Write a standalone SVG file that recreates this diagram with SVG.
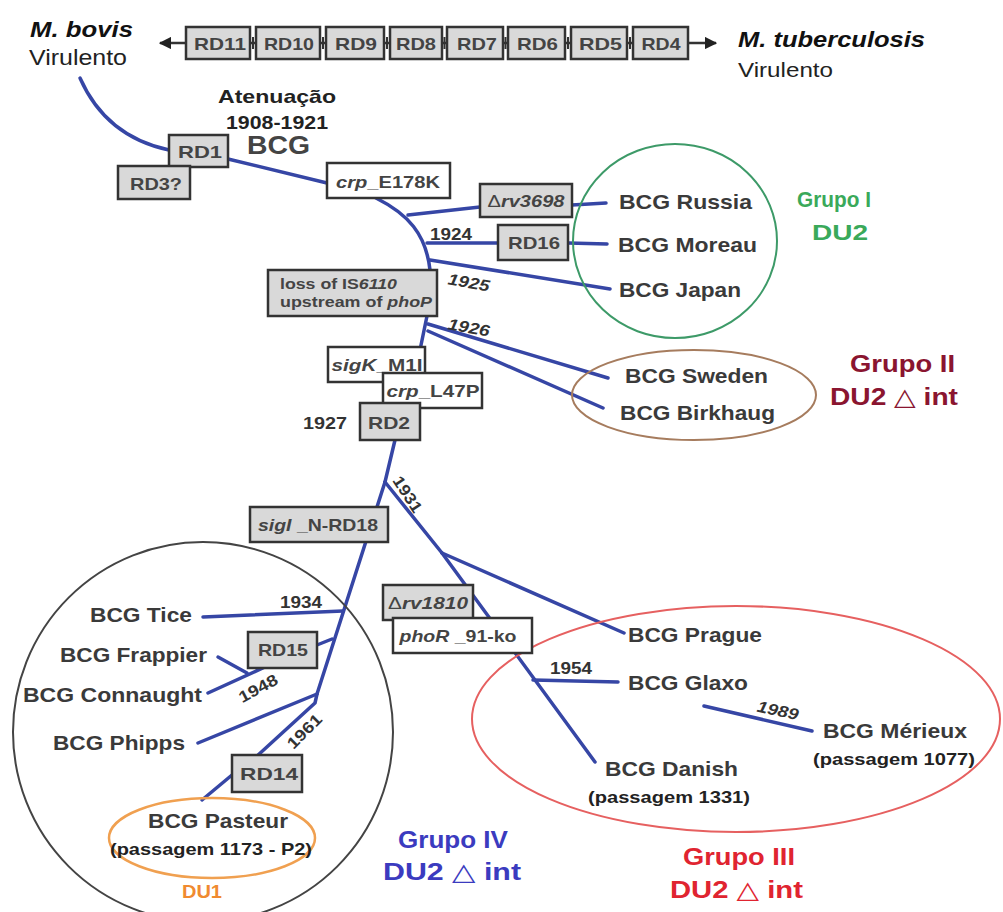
<svg xmlns="http://www.w3.org/2000/svg" width="1003" height="912" viewBox="0 0 1003 912">
<style>
text{font-family:"Liberation Sans",Arial,sans-serif;}
.bx{fill:#d9d9d9;stroke:#333;stroke-width:2.5;}
.wb{fill:#fff;stroke:#333;stroke-width:2.5;}
.bt{font-size:17px;font-weight:bold;fill:#444;text-anchor:middle;}
.bl{font-size:15px;font-weight:bold;fill:#444;}
.yr{font-size:16px;font-weight:bold;fill:#333;}
.lbl{font-size:21px;font-weight:bold;fill:#3a3a3a;}
.pas{font-size:16.5px;font-weight:bold;fill:#222;}
.grp{font-size:24px;font-weight:bold;}
.ln{fill:none;stroke:#3646a5;stroke-width:3.5;stroke-linecap:round;stroke-linejoin:round;}
.tri{font-weight:normal;font-family:"DejaVu Sans",sans-serif;}
</style>
<defs>
<marker id="ah" viewBox="0 0 10 10" refX="9" refY="5" markerWidth="5" markerHeight="5" orient="auto-start-reverse"><path d="M0,0 L10,5 L0,10 z" fill="#222"/></marker>
</defs>
<rect width="1003" height="912" fill="#fff"/>

<!-- top bar -->
<g id="topbar">
<line x1="160" y1="43" x2="716" y2="43" stroke="#333" stroke-width="2.5" marker-start="url(#ah)" marker-end="url(#ah)"/>
<g stroke="#333" stroke-width="2"><line x1="253" y1="37" x2="253" y2="49"/><line x1="323" y1="37" x2="323" y2="49"/><line x1="387" y1="37" x2="387" y2="49"/><line x1="444.5" y1="37" x2="444.5" y2="49"/><line x1="505.5" y1="37" x2="505.5" y2="49"/><line x1="568" y1="37" x2="568" y2="49"/><line x1="630" y1="37" x2="630" y2="49"/></g>
<rect class="bx" x="186" y="27" width="64" height="32"/><text class="bt" x="220" y="50" textLength="52" lengthAdjust="spacingAndGlyphs">RD11</text>
<rect class="bx" x="256" y="27" width="64" height="32"/><text class="bt" x="289" y="50" textLength="50" lengthAdjust="spacingAndGlyphs">RD10</text>
<rect class="bx" x="326" y="27" width="58" height="32"/><text class="bt" x="356" y="50" textLength="42" lengthAdjust="spacingAndGlyphs">RD9</text>
<rect class="bx" x="390" y="27" width="52" height="32"/><text class="bt" x="416" y="50" textLength="40" lengthAdjust="spacingAndGlyphs">RD8</text>
<rect class="bx" x="447" y="27" width="56" height="32"/><text class="bt" x="477" y="50" textLength="40" lengthAdjust="spacingAndGlyphs">RD7</text>
<rect class="bx" x="508" y="27" width="57" height="32"/><text class="bt" x="537.5" y="50" textLength="41" lengthAdjust="spacingAndGlyphs">RD6</text>
<rect class="bx" x="571" y="27" width="56" height="32"/><text class="bt" x="600.5" y="50" textLength="43" lengthAdjust="spacingAndGlyphs">RD5</text>
<rect class="bx" x="633" y="27" width="55" height="32"/><text class="bt" x="661" y="50" textLength="39" lengthAdjust="spacingAndGlyphs">RD4</text>
</g>

<g id="mbovis">
<text x="30" y="37" font-size="22" font-weight="bold" font-style="italic" fill="#111" textLength="103" lengthAdjust="spacingAndGlyphs">M. bovis</text>
<text x="29" y="65" font-size="22" fill="#222" textLength="98" lengthAdjust="spacingAndGlyphs">Virulento</text>
</g>
<g id="mtb">
<text x="738" y="47" font-size="22" font-weight="bold" font-style="italic" fill="#111" textLength="187" lengthAdjust="spacingAndGlyphs">M. tuberculosis</text>
<text x="738" y="77" font-size="21" fill="#222" textLength="95" lengthAdjust="spacingAndGlyphs">Virulento</text>
</g>
<g id="atenuacao">
<text x="277" y="103" font-size="19" font-weight="bold" fill="#222" text-anchor="middle" textLength="118" lengthAdjust="spacingAndGlyphs">Atenuação</text>
<text x="277" y="129" font-size="19" font-weight="bold" fill="#222" text-anchor="middle" textLength="102" lengthAdjust="spacingAndGlyphs">1908-1921</text>
<text x="247" y="154" font-size="25" font-weight="bold" fill="#444" textLength="63" lengthAdjust="spacingAndGlyphs">BCG</text>
</g>

<!-- connectors -->
<g id="connectors">
<path class="ln" d="M80,78 C95,112 122,140 169,150"/>
<path class="ln" d="M228,159 L327,183"/>
<path class="ln" d="M376,198 C408,214 426,234 430,270"/>
<path class="ln" d="M408,215 L480,207"/>
<path class="ln" d="M572,205 L606,203"/>
<path class="ln" d="M427,243 L498,243"/>
<path class="ln" d="M568,243 L607,244"/>
<path class="ln" d="M430,260 L610,289"/>
<path class="ln" d="M427,316 L420,350 L395,440 L385,482"/>
<path class="ln" d="M428,324 L608,378"/>
<path class="ln" d="M428,331 L603,408"/>
<path class="ln" d="M385,482 L317,694 L315,703 L257,756"/>
<path class="ln" d="M203,617 L343,611"/>
<path class="ln" d="M317,645 L332,639"/>
<path class="ln" d="M218,657 L247,673"/>
<path class="ln" d="M208,693 L265,667"/>
<path class="ln" d="M198,743 L317,694"/>
<path class="ln" d="M232,775 L202,800"/>
<path class="ln" d="M385,482 L442,553"/>
<path class="ln" d="M442,553 L624,633"/>
<path class="ln" d="M442,553 L595,762"/>
<path class="ln" d="M533,680 L618,682"/>
<path class="ln" d="M704,706 L812,731"/>
</g>

<!-- group outlines -->
<g id="grupo1">
<ellipse cx="675" cy="241" rx="102" ry="97" fill="none" stroke="#3d9a68" stroke-width="2"/>
<text class="grp" x="797" y="207" font-size="22" fill="#3aa95a" textLength="74" lengthAdjust="spacingAndGlyphs" style="font-size:22px">Grupo I</text>
<text class="grp" x="812" y="240" fill="#3aa95a" textLength="56" lengthAdjust="spacingAndGlyphs" style="font-size:22px">DU2</text>
</g>
<g id="grupo2">
<ellipse cx="694" cy="395" rx="122" ry="45" fill="none" stroke="#a67c5e" stroke-width="2"/>
<text class="grp" x="850" y="372" fill="#8a1530" textLength="105" lengthAdjust="spacingAndGlyphs">Grupo II</text>
<text class="grp" x="830" y="405" fill="#8a1530" textLength="128" lengthAdjust="spacingAndGlyphs">DU2 <tspan class="tri">△</tspan> int</text>
</g>
<g id="grupo4">
<circle cx="203" cy="732" r="190" fill="none" stroke="#444" stroke-width="2"/>
<text class="grp" x="398" y="848" fill="#3b3bbf" textLength="110" lengthAdjust="spacingAndGlyphs">Grupo IV</text>
<text class="grp" x="383" y="880" fill="#3b3bbf" textLength="138" lengthAdjust="spacingAndGlyphs">DU2  <tspan class="tri">△</tspan> int</text>
</g>
<g id="grupo3">
<ellipse cx="736" cy="719" rx="264" ry="113" fill="none" stroke="#e66060" stroke-width="2"/>
<text class="grp" x="683" y="865" fill="#e02430" textLength="112" lengthAdjust="spacingAndGlyphs">Grupo III</text>
<text class="grp" x="670" y="898" fill="#e02430" textLength="133" lengthAdjust="spacingAndGlyphs">DU2 <tspan class="tri">△</tspan> int</text>
</g>
<g id="du1">
<ellipse cx="212" cy="838" rx="103" ry="40" fill="none" stroke="#f0a050" stroke-width="2.5"/>
<text x="202" y="898" font-size="18" font-weight="bold" fill="#f08a30" text-anchor="middle" textLength="40" lengthAdjust="spacingAndGlyphs">DU1</text>
</g>

<!-- marker boxes -->
<g id="rd1"><rect class="bx" x="169" y="135" width="59" height="32"/><text class="bt" x="200" y="158" textLength="44" lengthAdjust="spacingAndGlyphs">RD1</text></g>
<g id="rd3"><rect class="bx" x="118" y="166" width="72" height="33"/><text class="bt" x="156" y="190" textLength="52" lengthAdjust="spacingAndGlyphs">RD3?</text></g>
<g id="crpE178K"><rect class="wb" x="327" y="163" width="123" height="35"/><text class="bt" x="388" y="188" textLength="104" lengthAdjust="spacingAndGlyphs"><tspan font-style="italic">crp</tspan>_E178K</text></g>
<g id="rv3698"><rect class="bx" x="480" y="184" width="92" height="33"/><text class="bt" x="526" y="207" textLength="77" lengthAdjust="spacingAndGlyphs" fill="#555"><tspan font-weight="normal">Δ</tspan><tspan font-style="italic">rv3698</tspan></text></g>
<g id="rd16"><rect class="bx" x="498" y="225" width="70" height="35"/><text class="bt" x="534" y="249" textLength="52" lengthAdjust="spacingAndGlyphs">RD16</text></g>
<g id="is6110"><rect class="bx" x="268" y="270" width="169" height="46"/>
<text class="bl" x="280" y="289" textLength="117" lengthAdjust="spacingAndGlyphs">loss of IS<tspan font-style="italic">6110</tspan></text>
<text class="bl" x="280" y="307" textLength="152" lengthAdjust="spacingAndGlyphs">upstream of <tspan font-style="italic">phoP</tspan></text></g>
<g id="sigK"><rect class="wb" x="328" y="347" width="97" height="35"/><text class="bt" x="377" y="371" textLength="91" lengthAdjust="spacingAndGlyphs"><tspan font-style="italic">sigK</tspan>_M1I</text></g>
<g id="crpL47P"><rect class="wb" x="383" y="373" width="99" height="35"/><text class="bt" x="433" y="397" textLength="93" lengthAdjust="spacingAndGlyphs"><tspan font-style="italic">crp</tspan>_L47P</text></g>
<g id="rd2"><rect class="bx" x="360" y="403" width="60" height="37"/><text class="bt" x="389" y="429" textLength="42" lengthAdjust="spacingAndGlyphs">RD2</text></g>
<g id="sigI"><rect class="bx" x="250" y="507" width="138" height="35"/><text class="bt" x="318" y="531" textLength="120" lengthAdjust="spacingAndGlyphs"><tspan font-style="italic">sigI</tspan> _N-RD18</text></g>
<g id="rd15"><rect class="bx" x="248" y="632" width="69" height="36"/><text class="bt" x="283" y="656" textLength="50" lengthAdjust="spacingAndGlyphs">RD15</text></g>
<g id="rd14"><rect class="bx" x="232" y="755" width="70" height="37"/><text class="bt" x="269" y="780" textLength="58" lengthAdjust="spacingAndGlyphs">RD14</text></g>
<g id="rv1810"><rect class="bx" x="383" y="585" width="90" height="35"/><text class="bt" x="428" y="609" textLength="80" lengthAdjust="spacingAndGlyphs" fill="#555"><tspan font-weight="normal">Δ</tspan><tspan font-style="italic">rv1810</tspan></text></g>
<g id="phoR"><rect class="wb" x="393" y="618" width="139" height="35"/><text class="bt" x="458" y="642" textLength="117" lengthAdjust="spacingAndGlyphs"><tspan font-style="italic">phoR</tspan> _91-ko</text></g>

<!-- years -->
<g id="years">
<text class="yr" x="430" y="240" textLength="42" lengthAdjust="spacingAndGlyphs">1924</text>
<text class="yr" x="469" y="288" font-style="italic" text-anchor="middle" transform="rotate(10 469 282)" textLength="42" lengthAdjust="spacingAndGlyphs">1925</text>
<text class="yr" x="469" y="333" font-style="italic" text-anchor="middle" transform="rotate(10 469 327)" textLength="42" lengthAdjust="spacingAndGlyphs">1926</text>
<text class="yr" x="303" y="429" textLength="44" lengthAdjust="spacingAndGlyphs">1927</text>
<text class="yr" x="408" y="500" text-anchor="middle" transform="rotate(57 408 494)" textLength="40" lengthAdjust="spacingAndGlyphs">1931</text>
<text class="yr" x="280" y="608" textLength="42" lengthAdjust="spacingAndGlyphs">1934</text>
<text class="yr" x="258" y="694" text-anchor="middle" transform="rotate(-28 258 688)" textLength="42" lengthAdjust="spacingAndGlyphs">1948</text>
<text class="yr" x="304" y="737" text-anchor="middle" transform="rotate(-45 304 731)" textLength="42" lengthAdjust="spacingAndGlyphs">1961</text>
<text class="yr" x="550" y="674" textLength="42" lengthAdjust="spacingAndGlyphs">1954</text>
<text class="yr" x="778" y="716" font-style="italic" text-anchor="middle" transform="rotate(12 778 710)" textLength="42" lengthAdjust="spacingAndGlyphs">1989</text>
</g>

<!-- strain labels -->
<g id="russia"><text class="lbl" x="619" y="209" textLength="133" lengthAdjust="spacingAndGlyphs">BCG Russia</text></g>
<g id="moreau"><text class="lbl" x="618" y="252" textLength="139" lengthAdjust="spacingAndGlyphs">BCG Moreau</text></g>
<g id="japan"><text class="lbl" x="619" y="297" textLength="122" lengthAdjust="spacingAndGlyphs">BCG Japan</text></g>
<g id="sweden"><text class="lbl" x="625" y="383" textLength="143" lengthAdjust="spacingAndGlyphs">BCG Sweden</text></g>
<g id="birkhaug"><text class="lbl" x="620" y="420" textLength="155" lengthAdjust="spacingAndGlyphs">BCG Birkhaug</text></g>
<g id="tice"><text class="lbl" x="90" y="622" textLength="102" lengthAdjust="spacingAndGlyphs">BCG Tice</text></g>
<g id="frappier"><text class="lbl" x="60" y="662" textLength="147" lengthAdjust="spacingAndGlyphs">BCG Frappier</text></g>
<g id="connaught"><text class="lbl" x="23" y="702" textLength="179" lengthAdjust="spacingAndGlyphs">BCG Connaught</text></g>
<g id="phipps"><text class="lbl" x="53" y="750" textLength="132" lengthAdjust="spacingAndGlyphs">BCG Phipps</text></g>
<g id="pasteur"><text class="lbl" x="148" y="828" textLength="140" lengthAdjust="spacingAndGlyphs">BCG Pasteur</text>
<text class="pas" x="110" y="855" textLength="202" lengthAdjust="spacingAndGlyphs">(passagem 1173 - P2)</text></g>
<g id="prague"><text class="lbl" x="628" y="642" textLength="134" lengthAdjust="spacingAndGlyphs">BCG Prague</text></g>
<g id="glaxo"><text class="lbl" x="628" y="690" textLength="120" lengthAdjust="spacingAndGlyphs">BCG Glaxo</text></g>
<g id="merieux"><text class="lbl" x="823" y="738" textLength="144" lengthAdjust="spacingAndGlyphs">BCG Mérieux</text>
<text class="pas" x="813" y="765" textLength="162" lengthAdjust="spacingAndGlyphs">(passagem 1077)</text></g>
<g id="danish"><text class="lbl" x="605" y="776" textLength="133" lengthAdjust="spacingAndGlyphs">BCG Danish</text>
<text class="pas" x="588" y="803" textLength="162" lengthAdjust="spacingAndGlyphs">(passagem 1331)</text></g>
</svg>
